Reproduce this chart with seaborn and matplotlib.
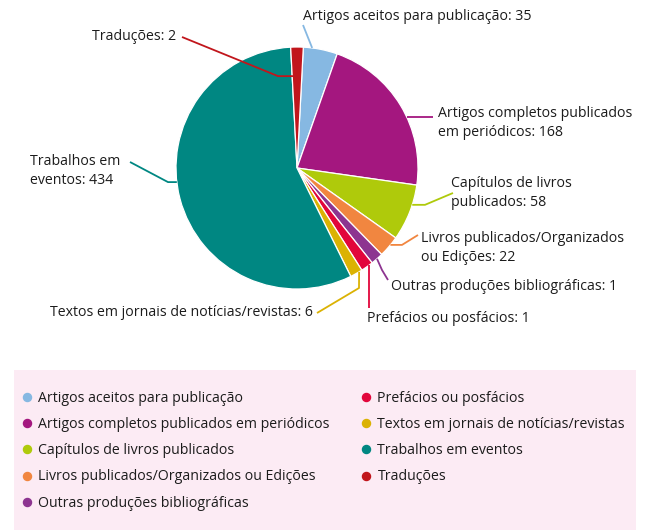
import matplotlib
matplotlib.use("Agg")
import matplotlib.pyplot as plt
from matplotlib.lines import Line2D
from matplotlib.patches import Rectangle
import numpy as np
import seaborn as sns

# ---- data ----
categories = [
    "Artigos aceitos para publicação",
    "Artigos completos publicados em periódicos",
    "Capítulos de livros publicados",
    "Livros publicados/Organizados ou Edições",
    "Outras produções bibliográficas",
    "Prefácios ou posfácios",
    "Textos em jornais de notícias/revistas",
    "Trabalhos em eventos",
    "Traduções",
]
values = [35, 168, 58, 22, 1, 1, 6, 434, 2]
colors = ["#86b8e2", "#a4177f", "#afca0b", "#f18640", "#8d3490",
          "#e2063b", "#dbb203", "#008782", "#c1161c"]
# label text as shown next to each slice
slice_labels = [
    "Artigos aceitos para publicação: 35",
    "Artigos completos publicados\nem periódicos: 168",
    "Capítulos de livros\npublicados: 58",
    "Livros publicados/Organizados\nou Edições: 22",
    "Outras produções bibliográficas: 1",
    "Prefácios ou posfácios: 1",
    "Textos em jornais de notícias/revistas: 6",
    "Trabalhos em\neventos: 434",
    "Traduções: 2",
]

# ---- style ----
sns.set_theme(style="white")
FONT = "Open Sans"
plt.rcParams["font.family"] = [FONT, "DejaVu Sans"]
FS = 10.2
TXT = "#1c1c1c"

W, H = 649, 530
fig = plt.figure(figsize=(W / 100, H / 100), dpi=100)
ax = fig.add_axes([0, 0, 1, 1])

CX, CY, R = 297, 168, 121
MIN_DEG = 6.0  # minimum visible slice angle used by the original chart

vals = np.array(values, dtype=float)
total = vals.sum()
small = vals / total * 360 < MIN_DEG
rest = 360 - MIN_DEG * small.sum()
display = np.where(small, MIN_DEG, vals / vals[~small].sum() * rest)

palette = sns.color_palette(colors)
wedges, _ = ax.pie(display, colors=palette, startangle=-87, counterclock=True,
                   center=(CX, CY), radius=R,
                   wedgeprops=dict(edgecolor="white", linewidth=0.9))
ax.set_xlim(0, W)
ax.set_ylim(H, 0)
ax.set_aspect("equal")
ax.axis("off")

# layout of labels: angle offset, radius fraction, path after anchor, text pos, ha
layout = [
    dict(off=-4, rf=1.0, path=[(303, 25)], text=(303, 16), ha="left"),
    dict(off=6.5, rf=1.0, path=[(433, None)], text=(438, 123), ha="left"),
    dict(off=-4, rf=1.0, path=[(425, None), (453, 193)], text=(451, 193), ha="left"),
    dict(off=-1, rf=1.0, path=[(402, None), (418, 235)], text=(421, 248), ha="left"),
    dict(off=0, rf=1.0, path=[(382, 270), (388, 280)], text=(391, 287), ha="left"),
    dict(off=-1, rf=1.0, path=[(None, 308)], text=(367, 318), ha="left"),
    dict(off=-1.5, rf=1.0, path=[(359, 288), (317, 313)], text=(313, 313), ha="right"),
    dict(off=8, rf=1.0, path=[(168, None), (130, 162)], text=(30, 171), ha="left"),
    dict(off=-2.5, rf=0.76, path=[(278, None), (182, 37)], text=(176, 36), ha="right"),
]

for w, lab, lay, col in zip(wedges, slice_labels, layout, colors):
    th = np.deg2rad((w.theta1 + w.theta2) / 2 + lay["off"])
    ax_ = CX + R * lay["rf"] * np.cos(th)
    ay_ = CY + R * lay["rf"] * np.sin(th)
    xs, ys = [ax_], [ay_]
    for px, py in lay["path"]:
        xs.append(xs[-1] if px is None else px)
        ys.append(ys[-1] if py is None else py)
    ax.plot(xs, ys, color=col, lw=1.3, solid_capstyle="butt", zorder=1)
    ax.text(lay["text"][0], lay["text"][1], lab, ha=lay["ha"], va="center",
            fontsize=FS, color=TXT, linespacing=1.45)

# ---- legend ----
ax.add_patch(Rectangle((14, 370), 622, 160, facecolor="#fcebf4",
                       edgecolor="none", zorder=0))
handles = [Line2D([], [], linestyle="none", marker="o", markersize=5.8,
                  markerfacecolor=c, markeredgecolor=c) for c in colors]
leg = ax.legend(handles, categories, ncol=2, loc="upper left",
                bbox_to_anchor=(22.5 / W, 1 - 390.5 / H),
                bbox_transform=fig.transFigure, frameon=False,
                fontsize=FS, borderpad=0, borderaxespad=0,
                handlelength=0.6, handletextpad=0.5,
                labelspacing=0.8, columnspacing=2.28)
for t in leg.get_texts():
    t.set_color(TXT)

fig.savefig("out.png", dpi=100)
